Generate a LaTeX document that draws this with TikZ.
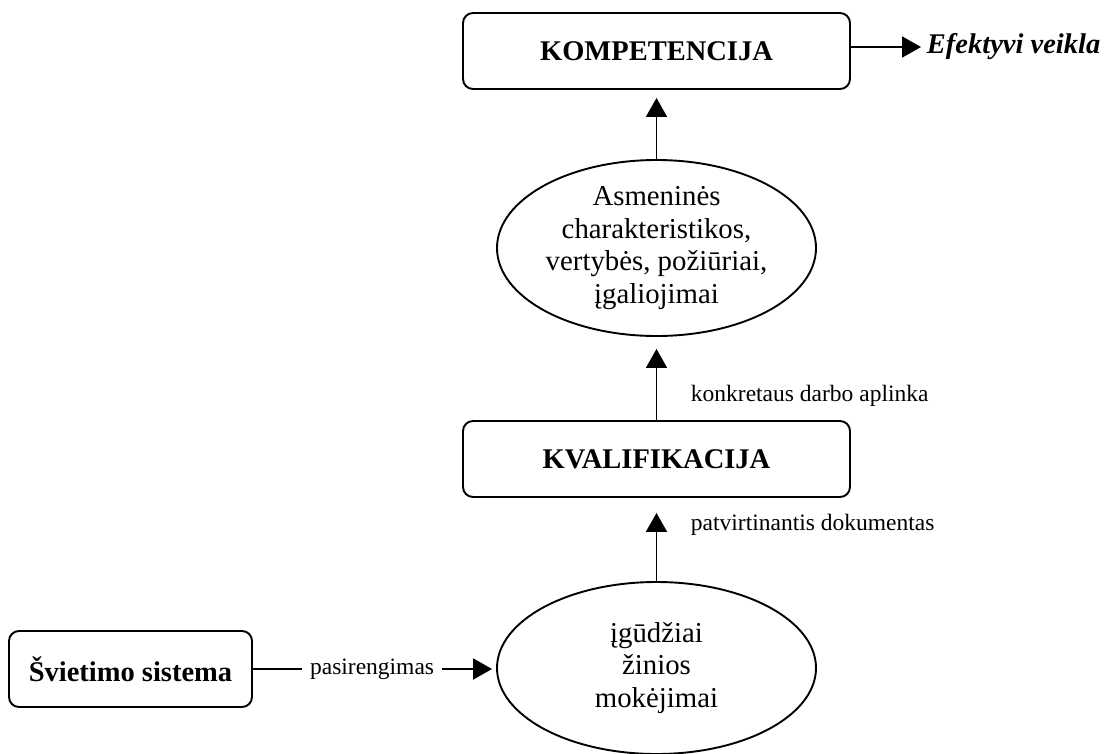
\documentclass[tikz,border=0pt]{standalone}
\usepackage{fontspec}
\setmainfont{Liberation Serif}
\usetikzlibrary{arrows.meta,shapes.geometric}
\begin{document}
\begin{tikzpicture}[x=1pt,y=-1pt,
  line width=1.9pt,
  box/.style={draw,rounded corners=10pt,minimum width=387pt,minimum height=76pt,
    inner sep=0pt,font=\fontsize{28.5}{31}\selectfont\bfseries},
  oval/.style={draw,ellipse,minimum width=319pt,inner sep=0pt,align=center,
    font=\fontsize{28.8}{32.5}\selectfont},
  lbl/.style={font=\fontsize{23.5}{26}\selectfont,inner sep=0pt},
  arr/.style={-{Triangle[length=19pt,width=21pt]}}]
\useasboundingbox (0,0) rectangle (1109,753);

% main chain of concepts
\node[box] (komp) at (656.5,51) {KOMPETENCIJA};
\node[oval,minimum height=176pt] (asm) at (656.5,248)
  {Asmeninės\\charakteristikos,\\vertybės, požiūriai,\\įgaliojimai};
\node[box] (kval) at (656.5,459) {KVALIFIKACIJA};
\node[oval,minimum height=172pt] (zin) at (656.5,668)
  {įgūdžiai\\žinios\\mokėjimai};
\node[box,minimum width=243pt] (svs) at (130.5,669) {Švietimo sistema};

% result on the right
\node[anchor=west,inner sep=0pt,font=\fontsize{28.5}{30}\selectfont\bfseries\itshape]
  (eff) at (926,47) {Efektyvi veikla};

% connectors
\draw[arr,shorten >=8pt] (asm.north) -- (komp.south);
\draw[arr,shorten >=12pt] (kval.north) -- (asm.south);
\draw[arr,shorten >=15pt] (zin.north) -- (kval.south);
\draw[arr,shorten >=5pt] (komp.east |- eff.west) -- (eff.west);
\draw[arr,shorten >=4pt] (svs.east) -- (zin.west |- svs.east)
  node[pos=0.49,fill=white,inner xsep=8pt,inner ysep=2pt,font=\fontsize{23.5}{26}\selectfont] {pasirengimas};

% edge labels
\node[lbl,anchor=base west] (lk) at (690,401) {konkretaus darbo aplinka};
\node[lbl,anchor=base west] (lp) at (690,530) {patvirtinantis dokumentas};
\end{tikzpicture}
\end{document}
